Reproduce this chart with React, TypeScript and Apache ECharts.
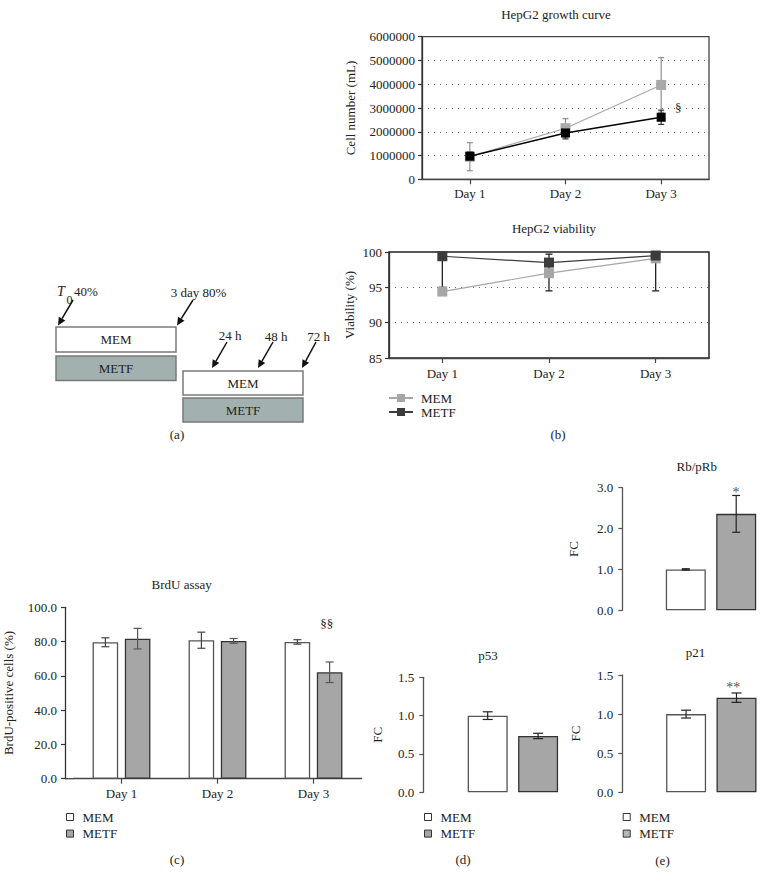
import React, { useEffect, useRef } from "react";
import * as echarts from "echarts";

const FONT = "'Liberation Serif', 'Times New Roman', serif";
const INK = "#222";

// ---------- data ----------
const days = ["Day 1", "Day 2", "Day 3"];

const growthMem = [950000, 2150000, 3970000];
const growthMemErr = [590000, 400000, 1150000];
const growthMetf = [970000, 1950000, 2610000];
const growthMetfErr = [180000, 250000, 300000];

const viabMem = [94.4, 97.0, 99.1];
const viabMemErr = [0.4, 0.5, 0.3];
const viabMetf = [99.4, 98.5, 99.5];
const viabMetfLow = [95.0, 94.5, 94.5];
const viabMetfHigh = [99.8, 99.7, 99.9];

const brduMem = [79.6, 80.8, 79.8];
const brduMemErr = [2.6, 4.7, 1.3];
const brduMetf = [81.7, 80.4, 62.1];
const brduMetfErr = [6.0, 1.4, 6.0];

const p53Mem = [1.0];
const p53MemErr = [0.05];
const p53Metf = [0.735];
const p53MetfErr = [0.035];

const rbMem = [1.0];
const rbMemErr = [0.015];
const rbMetf = [2.36];
const rbMetfErr = [0.45];

const p21Mem = [1.0];
const p21MemErr = [0.05];
const p21Metf = [1.21];
const p21MetfErr = [0.06];

// ---------- helpers ----------
const sym = (v: number[], e: number[]) => v.map((y, i) => [i, y - e[i], y + e[i]]);
const lohi = (lo: number[], hi: number[]) => lo.map((l, i) => [i, l, hi[i]]);

function errSeries(
  data: number[][],
  xi: number,
  yi: number,
  color: string,
  cap: number,
  offset: number,
  lw: number,
  z: number
) {
  return {
    type: "custom",
    xAxisIndex: xi,
    yAxisIndex: yi,
    silent: true,
    z,
    data,
    encode: { x: 0, y: [1, 2] },
    renderItem: (params: any, api: any) => {
      const x = api.value(0);
      const pLo = api.coord([x, api.value(1)]);
      const pHi = api.coord([x, api.value(2)]);
      const cx = pLo[0] + offset;
      const st = { stroke: color, lineWidth: lw };
      return {
        type: "group",
        children: [
          { type: "line", shape: { x1: cx, y1: pHi[1], x2: cx, y2: pLo[1] }, style: st },
          { type: "line", shape: { x1: cx - cap / 2, y1: pHi[1], x2: cx + cap / 2, y2: pHi[1] }, style: st },
          { type: "line", shape: { x1: cx - cap / 2, y1: pLo[1], x2: cx + cap / 2, y2: pLo[1] }, style: st },
        ],
      };
    },
  };
}

const txt = (text: string, x: number, y: number, extra: any = {}) => ({
  type: "text",
  x,
  y,
  silent: true,
  style: {
    text,
    fill: extra.fill || INK,
    font: extra.font || `13px ${FONT}`,
    align: extra.align || "center",
    textAlign: extra.align || "center",
    verticalAlign: "middle",
    textVerticalAlign: "middle",
  },
});

const arrow = (x1: number, y1: number, x2: number, y2: number) => {
  const dx = x2 - x1;
  const dy = y2 - y1;
  const L = Math.hypot(dx, dy);
  const ux = dx / L;
  const uy = dy / L;
  const hl = 8;
  const hw = 3.8;
  const bx = x2 - ux * hl;
  const by = y2 - uy * hl;
  return [
    { type: "line", silent: true, shape: { x1, y1, x2: bx, y2: by }, style: { stroke: "#111", lineWidth: 1.5 } },
    {
      type: "polygon",
      silent: true,
      shape: { points: [[x2, y2], [bx - uy * hw, by + ux * hw], [bx + uy * hw, by - ux * hw]] },
      style: { fill: "#111" },
    },
  ];
};

const box = (x: number, y: number, w: number, h: number, fill: string) => ({
  type: "rect",
  silent: true,
  shape: { x, y, width: w, height: h },
  style: { fill, stroke: "#7a7a7a", lineWidth: 1.5 },
});

const labelStyle = { fontFamily: FONT, fontSize: 13, color: INK };

function valueAxis(gi: number, min: number, max: number, interval: number, opts: any = {}) {
  return {
    type: "value",
    gridIndex: gi,
    min,
    max,
    interval,
    offset: opts.offset || 0,
    name: opts.name || "",
    nameLocation: "middle",
    nameGap: opts.nameGap || 40,
    nameTextStyle: { fontFamily: FONT, fontSize: 13, color: INK },
    axisLine: { show: true, lineStyle: { color: opts.lineColor || "#333", width: 1.3 } },
    axisTick: { show: true, length: 4, lineStyle: { color: opts.lineColor || "#333", width: 1.2 } },
    axisLabel: {
      ...labelStyle,
      margin: opts.margin || 8,
      formatter: opts.fmt || ((v: number) => String(v)),
    },
    splitLine: opts.dotted
      ? { show: true, showMinLine: false, showMaxLine: false, lineStyle: { type: [1, 5], color: "#666", width: 1 } }
      : { show: false },
  };
}

function catAxis(gi: number, data: string[], show: boolean, margin = 8) {
  return {
    type: "category",
    gridIndex: gi,
    data,
    show,
    boundaryGap: true,
    axisLine: { show: true, lineStyle: { color: "#444", width: 1.3 } },
    axisTick: { show: true, alignWithLabel: true, length: 5, lineStyle: { color: "#444", width: 1.2 } },
    axisLabel: { ...labelStyle, margin },
    splitLine: { show: false },
  };
}

const memBarStyle = { color: "#ffffff", borderColor: "#555", borderWidth: 1.3 };
const metfBarStyle = { color: "#a6a6a6", borderColor: "#333", borderWidth: 1.3 };

function barPair(prefix: string, gi: number, mem: number[], metf: number[], width: number) {
  return [
    {
      type: "bar",
      name: prefix + "_MEM",
      xAxisIndex: gi,
      yAxisIndex: gi,
      data: mem,
      barWidth: width,
      barGap: "26%",
      itemStyle: memBarStyle,
      z: 2,
      silent: true,
    },
    {
      type: "bar",
      name: prefix + "_METF",
      xAxisIndex: gi,
      yAxisIndex: gi,
      data: metf,
      barWidth: width,
      barGap: "26%",
      itemStyle: metfBarStyle,
      z: 2,
      silent: true,
    },
  ];
}

function barLegend(prefix: string, left: number, metfColor?: string) {
  return {
    orient: "vertical",
    left,
    top: 810,
    padding: 0,
    icon: "rect",
    itemWidth: 7,
    itemHeight: 7,
    itemGap: 2.6,
    selectedMode: false,
    itemStyle: { borderWidth: 1, borderColor: "#333" },
    data: [
      { name: prefix + "_MEM" },
      metfColor ? { name: prefix + "_METF", itemStyle: { color: metfColor } } : { name: prefix + "_METF" },
    ],
    formatter: (n: string) => n.split("_")[1],
    textStyle: { ...labelStyle, lineHeight: 14, padding: [0, 0, 0, 4] },
  };
}

const fmt1 = (v: number) => v.toFixed(1);

function buildOption() {
  const grids = [
    { left: 422, top: 36.7, width: 287, height: 142.6, show: true, borderColor: "#444", borderWidth: 1.3 }, // growth
    { left: 389, top: 252, width: 320, height: 106, show: true, borderColor: "#222", borderWidth: 1.5 }, // viability
    { left: 73.5, top: 607.3, width: 288, height: 171.4 }, // brdu
    { left: 462.9, top: 677.3, width: 100, height: 115 }, // p53
    { left: 661, top: 487.7, width: 100, height: 122.6 }, // rb
    { left: 661.3, top: 675, width: 100, height: 117.3 }, // p21
  ];

  const xAxis = [
    catAxis(0, days, true, 8),
    catAxis(1, days, true, 9),
    catAxis(2, days, true, 8),
    catAxis(3, ["p53"], false),
    catAxis(4, ["Rb/pRb"], false),
    catAxis(5, ["p21"], false),
  ];

  const yAxis = [
    valueAxis(0, 0, 6000000, 1000000, { name: "Cell number (mL)", nameGap: 65, margin: 7, dotted: true }),
    valueAxis(1, 85, 100, 5, { name: "Viability (%)", nameGap: 33, margin: 7, dotted: true }),
    valueAxis(2, 0, 100, 20, { name: "BrdU-positive cells (%)", nameGap: 50, margin: 8, offset: 8.5, fmt: fmt1 }),
    valueAxis(3, 0, 1.5, 0.5, { name: "FC", nameGap: 39, margin: 9, offset: 39.6, fmt: fmt1, lineColor: "#555" }),
    valueAxis(4, 0, 3, 1, { name: "FC", nameGap: 42, margin: 9, offset: 38.7, fmt: fmt1, lineColor: "#555" }),
    valueAxis(5, 0, 1.5, 0.5, { name: "FC", nameGap: 40, margin: 9, offset: 39, fmt: fmt1, lineColor: "#555" }),
  ];

  const series: any[] = [
    // growth curve
    errSeries(sym(growthMem, growthMemErr), 0, 0, "#8f8f8f", 6, 0, 1.2, 1),
    errSeries(sym(growthMetf, growthMetfErr), 0, 0, "#333", 6, 0, 1.2, 2),
    {
      type: "line",
      name: "g_MEM",
      xAxisIndex: 0,
      yAxisIndex: 0,
      data: growthMem,
      symbol: "rect",
      symbolSize: 10,
      itemStyle: { color: "#a9a9a9" },
      lineStyle: { color: "#a9a9a9", width: 1.2 },
      z: 3,
      silent: true,
    },
    {
      type: "line",
      name: "g_METF",
      xAxisIndex: 0,
      yAxisIndex: 0,
      data: growthMetf,
      symbol: "rect",
      symbolSize: 9,
      itemStyle: { color: "#000" },
      lineStyle: { color: "#000", width: 1.5 },
      z: 4,
      silent: true,
    },
    // viability
    errSeries(sym(viabMem, viabMemErr), 1, 1, "#999", 6, 0, 1.2, 1),
    errSeries(lohi(viabMetfLow, viabMetfHigh), 1, 1, "#222", 7, 0, 1.3, 2),
    {
      type: "line",
      name: "v_MEM",
      xAxisIndex: 1,
      yAxisIndex: 1,
      data: viabMem,
      symbol: "rect",
      symbolSize: 10,
      itemStyle: { color: "#a6a6a6" },
      lineStyle: { color: "#a6a6a6", width: 1.2 },
      z: 3,
      silent: true,
    },
    {
      type: "line",
      name: "v_METF",
      xAxisIndex: 1,
      yAxisIndex: 1,
      data: viabMetf,
      symbol: "rect",
      symbolSize: 10,
      itemStyle: { color: "#3c3c3c" },
      lineStyle: { color: "#3c3c3c", width: 1.2 },
      z: 4,
      silent: true,
    },
    // brdu
    ...barPair("c", 2, brduMem, brduMetf, 25.6),
    errSeries(sym(brduMem, brduMemErr), 2, 2, "#444", 8, -16.1, 1.2, 5),
    errSeries(sym(brduMetf, brduMetfErr), 2, 2, "#555", 8, 16.1, 1.2, 5),
    // p53
    ...barPair("d", 3, p53Mem, p53Metf, 40),
    errSeries(sym(p53Mem, p53MemErr), 3, 3, "#222", 10, -25.2, 1.2, 5),
    errSeries(sym(p53Metf, p53MetfErr), 3, 3, "#222", 10, 25.2, 1.2, 5),
    // rb
    ...barPair("rb", 4, rbMem, rbMetf, 40),
    errSeries(sym(rbMem, rbMemErr), 4, 4, "#222", 8, -25.2, 1.4, 5),
    errSeries(sym(rbMetf, rbMetfErr), 4, 4, "#222", 8, 25.2, 1.2, 5),
    // p21
    ...barPair("e", 5, p21Mem, p21Metf, 40),
    errSeries(sym(p21Mem, p21MemErr), 5, 5, "#222", 10, -25.2, 1.2, 5),
    errSeries(sym(p21Metf, p21MetfErr), 5, 5, "#222", 10, 25.2, 1.2, 5),
  ];

  const legend = [
    {
      orient: "vertical",
      left: 388,
      top: 391,
      padding: 0,
      itemWidth: 24,
      itemHeight: 10,
      itemGap: 0,
      selectedMode: false,
      data: ["v_MEM", "v_METF"],
      formatter: (n: string) => n.split("_")[1],
      textStyle: { ...labelStyle, lineHeight: 14, padding: [0, 0, 0, 3] },
    },
    barLegend("c", 66),
    barLegend("d", 424),
    barLegend("e", 622.7, "#b3b9b8"),
  ];

  const graphic: any[] = [
    // titles
    txt("HepG2 growth curve", 556, 14),
    txt("HepG2 viability", 554, 228.3),
    txt("BrdU assay", 181.7, 584.3),
    txt("p53", 488, 655),
    txt("Rb/pRb", 696.7, 466),
    txt("p21", 695.5, 652.7),
    // annotations
    txt("§", 678.3, 107.3),
    txt("§§", 326.7, 623.3),
    txt("*", 736, 492, { font: `14px ${FONT}`, fill: "#555" }),
    txt("**", 733.3, 687.5, { font: `14px ${FONT}`, fill: "#555" }),
    // brdu x-axis continuation to the offset y-axis
    { type: "line", silent: true, shape: { x1: 65, y1: 778.7, x2: 73.5, y2: 778.7 }, style: { stroke: "#444", lineWidth: 1.3 } },
    // panel labels
    txt("(a)", 177, 434),
    txt("(b)", 558, 434),
    txt("(c)", 177, 859),
    txt("(d)", 463, 859),
    txt("(e)", 662.5, 860),
    // diagram (a)
    box(56, 327, 120, 25, "#ffffff"),
    box(56, 356, 120, 24.5, "#a2b1af"),
    box(183, 371, 120, 24, "#ffffff"),
    box(183, 398, 120, 24, "#a2b1af"),
    txt("MEM", 116, 339.5),
    txt("METF", 116, 368.3),
    txt("MEM", 243, 383),
    txt("METF", 243, 410),
    txt("T", 61, 291.7, { font: `italic 14px ${FONT}` }),
    txt("0", 69.5, 300, { font: `12px ${FONT}` }),
    txt("40%", 86, 291.7),
    txt("3 day 80%", 198.5, 292),
    txt("24 h", 230, 335.5),
    txt("48 h", 276, 336),
    txt("72 h", 318.5, 336),
    ...arrow(73, 300, 58, 325.5),
    ...arrow(193, 300, 177, 325.5),
    ...arrow(227, 342, 212, 368),
    ...arrow(273, 342, 258, 368),
    ...arrow(316, 342, 302, 368),
  ];

  return {
    animation: false,
    backgroundColor: "#ffffff",
    textStyle: { fontFamily: FONT },
    grid: grids,
    xAxis,
    yAxis,
    series,
    legend,
    graphic,
  };
}

export default function App() {
  const ref = useRef<HTMLDivElement>(null);
  useEffect(() => {
    if (!ref.current) return;
    const chart = echarts.init(ref.current, null, { renderer: "svg" });
    chart.setOption(buildOption() as any);
    return () => chart.dispose();
  }, []);
  return (
    <div
      ref={ref}
      style={{ position: "fixed", left: 0, top: 0, width: 765, height: 886, background: "#fff" }}
    />
  );
}
